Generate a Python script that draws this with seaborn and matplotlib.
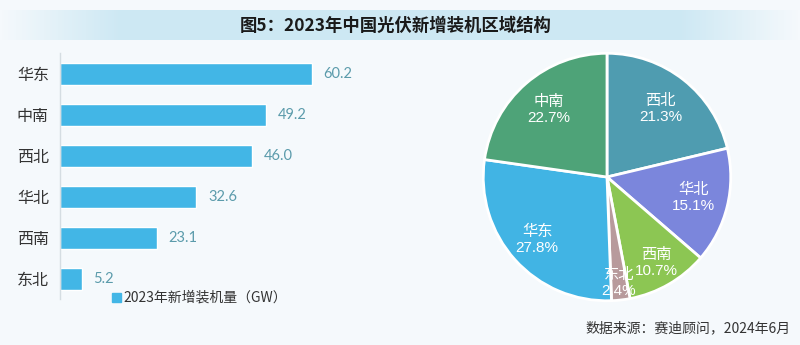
import numpy as np
import matplotlib
matplotlib.use("Agg")
import matplotlib.pyplot as plt
import seaborn as sns

# Data: 2023 new PV installations by region (GW)
regions = ["华东", "中南", "西北", "华北", "西南", "东北"]
capacity_gw = [60.2, 49.2, 46.0, 32.6, 23.1, 5.2]

# Pie order (clockwise from 12 o'clock) and colours
pie_order = ["西北", "华北", "西南", "东北", "华东", "中南"]
pie_colors = ["#4f9cb0", "#7b86dc", "#8cc653", "#b89a9c", "#41b4e4", "#4ea378"]
label_radius = [0.70, 0.72, 0.80, 0.86, 0.76, 0.72]

title = "图5：2023年中国光伏新增装机区域结构"
legend_label = "2023年新增装机量（GW）"
source = "数据来源：赛迪顾问，2024年6月"

sns.set_theme(style="white")
plt.rcParams["font.family"] = ["Noto Sans CJK SC", "DejaVu Sans"]

bar_color = "#42b6e6"
bg = "#f5f9fc"

fig = plt.figure(figsize=(8, 3.45), dpi=100)
fig.patch.set_facecolor(bg)

# Title band with soft horizontal gradient
band = fig.add_axes([0.0, 0.885, 1.0, 0.085])
band.axis("off")
xs = np.linspace(0, 1, 400)
alpha = np.clip(np.minimum(xs / 0.15, (1 - xs) / 0.15), 0, 1) * 0.85
grad = np.zeros((1, 400, 4))
grad[..., 0] = 0.78
grad[..., 1] = 0.90
grad[..., 2] = 0.95
grad[..., 3] = alpha
band.imshow(grad, aspect="auto", extent=[0, 1, 0, 1])
band.set_xlim(0, 1)
band.set_ylim(0, 1)
fig.text(0.494, 0.925, title, ha="center", va="center", fontsize=12.5,
         fontweight="bold", color="#1a1a1a")

# Horizontal bar chart
ax = fig.add_axes([0.075, 0.132, 0.35, 0.713])
ax.set_facecolor("none")
sns.barplot(x=capacity_gw, y=regions, ax=ax, color=bar_color, saturation=1,
            width=0.54, orient="h")
ax.set_xlim(0, 67)
ax.set_ylim(5.5, -0.5)
for s in ["top", "right", "bottom"]:
    ax.spines[s].set_visible(False)
ax.spines["left"].set_color("#d5dde2")
ax.spines["left"].set_linewidth(1.0)
ax.set_xticks([])
ax.set_xlabel("")
ax.set_ylabel("")
ax.tick_params(axis="y", length=0, pad=8, labelsize=11.5, labelcolor="#333333")
for i, v in enumerate(capacity_gw):
    ax.text(v + 2.8, i, f"{v:.1f}", va="center", ha="left", fontsize=10.5,
            color="#5b9bab", family=["Lato", "DejaVu Sans"])

# Legend
fig.patches.append(plt.Rectangle((0.140, 0.124), 0.011, 0.026, color=bar_color,
                                 transform=fig.transFigure, figure=fig))
fig.text(0.154, 0.137, legend_label, ha="left", va="center", fontsize=10,
         color="#333333")

# Pie chart
pax = fig.add_axes([0.6025, 0.1246, 0.3125, 0.7246])
pie_vals = [capacity_gw[regions.index(r)] for r in pie_order]
total = sum(pie_vals)
wedges, _ = pax.pie(pie_vals, colors=pie_colors, startangle=90, counterclock=False,
                    wedgeprops=dict(edgecolor="white", linewidth=2))
pax.set_xlim(-1.01, 1.01)
pax.set_ylim(-1.01, 1.01)
pax.set_aspect("equal")
for w, name, val, r in zip(wedges, pie_order, pie_vals, label_radius):
    ang = np.deg2rad((w.theta1 + w.theta2) / 2)
    pax.text(r * np.cos(ang), r * np.sin(ang), f"{name}\n{val / total * 100:.1f}%",
             ha="center", va="center", fontsize=11, color="white",
             linespacing=1.2, family=["Liberation Sans", "Noto Sans CJK SC"])

fig.text(0.988, 0.05, source, ha="right", va="center", fontsize=10,
         color="#333333")

fig.savefig("out.png", dpi=100, facecolor=fig.get_facecolor())
